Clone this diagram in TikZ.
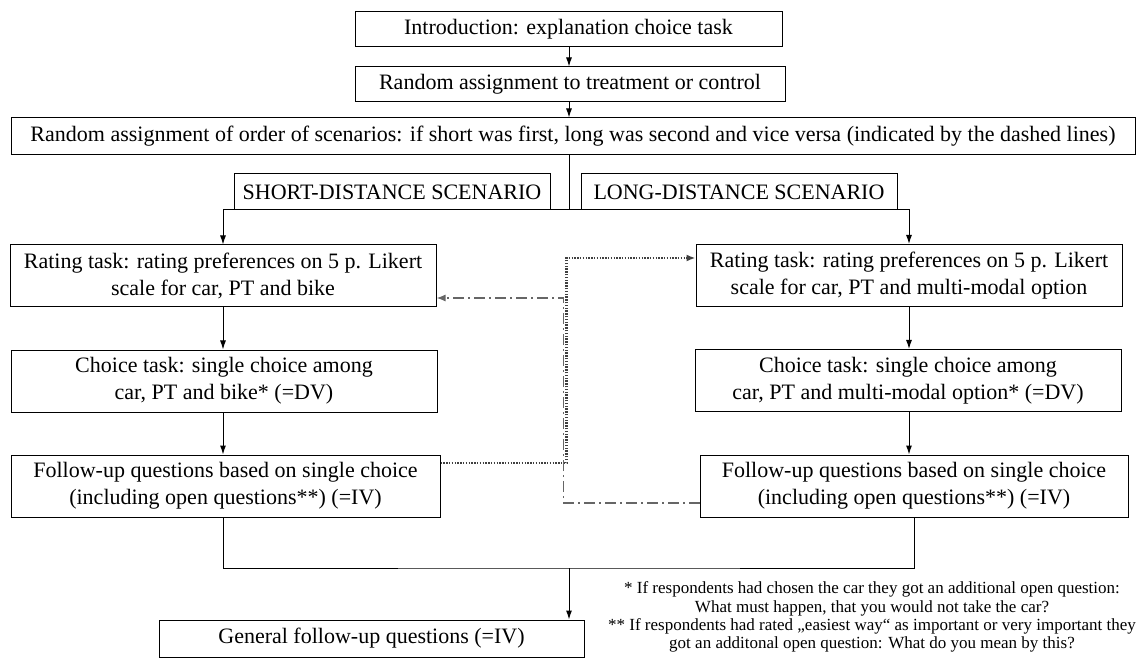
\documentclass[tikz,border=0pt]{standalone}
\usepackage{fontspec}
\setmainfont{Liberation Serif}
\usetikzlibrary{arrows.meta}
\begin{document}
\begin{tikzpicture}[x=1pt, y=-1pt, line width=1pt,
    box/.style = {draw, align=center, inner sep=1pt, minimum height=36pt, font=\fontsize{22}{27}\selectfont},
    tall/.style = {box, minimum width=426pt, minimum height=62pt},
    arr/.style = {-{Latex[length=9pt,width=6pt]}},
    dotline/.style = {draw=black!75, line width=2.2pt, dash pattern=on 1.4pt off 1.4pt, -{Latex[length=9pt,width=7pt]}},
    dashdot/.style = {draw=black!60, line width=1.3pt, dash pattern=on 11pt off 4pt on 2pt off 4pt, -{Latex[length=9pt,width=7pt]}},
    notes/.style = {align=center, font=\fontsize{17}{18.2}\selectfont}]
    \useasboundingbox (0,0) rectangle (1138,660);

    % top of the flow
    \node[box, minimum width=427pt, minimum height=35pt] (intro) at (568.5,29) {Introduction: explanation choice task};
    \node[box, minimum width=430pt, minimum height=35pt] (assign) at (570,84.5) {Random assignment to treatment or control};
    \node[box, minimum width=1124pt, minimum height=37pt] (order) at (573,136.5) {Random assignment of order of scenarios: if short was first, long was second and vice versa (indicated by the dashed lines)};
    \node[box, minimum width=316pt] (short) at (392,192) {SHORT-DISTANCE SCENARIO};
    \node[box, minimum width=316pt] (long) at (739,192) {LONG-DISTANCE SCENARIO};

    % short distance
    \node[tall] (rateS) at (223,276) {Rating task: rating preferences on 5 p. Likert\\scale for car, PT and bike};
    \node[tall] (choiceS) at (224,381) {Choice task: single choice among\\car, PT and bike* (=DV)};
    \node[tall, minimum width=429pt] (followS) at (225.5,486) {Follow-up questions based on single choice\\(including open questions**) (=IV)};

    % long distance
    \node[tall] (rateL) at (909,275.5) {Rating task: rating preferences on 5 p. Likert\\scale for car, PT and multi-modal option};
    \node[tall] (choiceL) at (908,380.5) {Choice task: single choice among\\car, PT and multi-modal option* (=DV)};
    \node[tall, minimum width=428pt] (followL) at (914,486) {Follow-up questions based on single choice\\(including open questions**) (=IV)};

    \node[box, minimum width=425pt, minimum height=37pt] (general) at (371.5,638.5) {General follow-up questions (=IV)};

    \node[notes] (notes) at (872,617) {* If respondents had chosen the car they got an additional open question:\\What must happen, that you would not take the car?\\** If respondents had rated „easiest way“ as important or very important they\\got an additonal open question: What do you mean by this?};

    \coordinate (split) at (569,210);
    \coordinate (merge) at (569,568);

    \draw[arr] (intro.south -| split) -- (assign.north -| split);
    \draw[arr] (assign.south -| split) -- (order.north -| split);
    \draw (order.south -| split) -- (split);
    \draw[arr] (split) -| (rateS.north);
    \draw[arr] (split) -| (rateL.north);

    \draw[arr] (rateS.south) -- (rateS.south |- choiceS.north);
    \draw[arr] (rateS.south |- choiceS.south) -- (rateS.south |- followS.north);
    \draw[arr] (rateL.south) -- (rateL.south |- choiceL.north);
    \draw[arr] (rateL.south |- choiceL.south) -- (rateL.south |- followL.north);

    % order switch
    \draw[dotline] ([yshift=23pt]followS.east) -- ++(126,0) |- ([yshift=17.5pt]rateL.west);
    \draw[dashdot] ([yshift=-17pt]followL.west) -- ++(-136,0) |- ([yshift=-22pt]rateS.east);

    \draw (rateS.south |- followS.south) |- (merge) -| (followL.south);
    \draw[arr] (merge) -- (merge |- general.north);
\end{tikzpicture}
\end{document}
